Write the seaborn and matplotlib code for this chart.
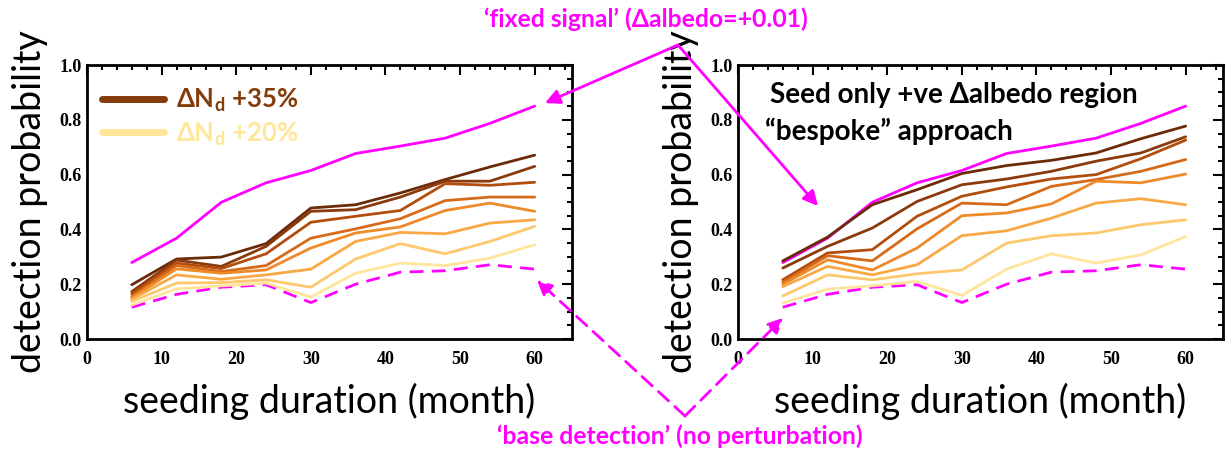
import matplotlib
matplotlib.use('Agg')
import matplotlib.pyplot as plt
import seaborn as sns
import pandas as pd
from matplotlib.lines import Line2D
from matplotlib.patches import FancyArrowPatch
from matplotlib.ticker import MultipleLocator

# ---------------- data ----------------
months = [6, 12, 18, 24, 30, 36, 42, 48, 54, 60]

fixed_signal = [0.279, 0.368, 0.499, 0.570, 0.615, 0.677, 0.704, 0.733, 0.787, 0.850]
base_detection = [0.116, 0.163, 0.189, 0.198, 0.133, 0.200, 0.244, 0.249, 0.271, 0.255]

series_names = ['+35%', '+33%', '+31%', '+29%', '+27%', '+25%', '+22%', '+20%']

left_1 = [0.198, 0.292, 0.299, 0.348, 0.478, 0.490, 0.533, 0.582, 0.628, 0.671]
left_2 = [0.173, 0.288, 0.265, 0.338, 0.466, 0.472, 0.518, 0.576, 0.576, 0.630]
left_3 = [0.165, 0.277, 0.257, 0.311, 0.426, 0.448, 0.469, 0.567, 0.561, 0.572]
left_4 = [0.155, 0.268, 0.246, 0.268, 0.368, 0.402, 0.439, 0.505, 0.518, 0.518]
left_5 = [0.150, 0.256, 0.240, 0.252, 0.332, 0.387, 0.409, 0.469, 0.496, 0.466]
left_6 = [0.145, 0.234, 0.218, 0.234, 0.255, 0.356, 0.389, 0.384, 0.423, 0.435]
left_7 = [0.137, 0.204, 0.206, 0.216, 0.189, 0.292, 0.348, 0.311, 0.356, 0.411]
left_8 = [0.124, 0.183, 0.194, 0.204, 0.153, 0.240, 0.277, 0.268, 0.295, 0.344]

right_1 = [0.285, 0.372, 0.490, 0.545, 0.604, 0.633, 0.652, 0.679, 0.731, 0.777]
right_2 = [0.259, 0.338, 0.405, 0.502, 0.563, 0.584, 0.612, 0.649, 0.679, 0.738]
right_3 = [0.216, 0.314, 0.326, 0.448, 0.521, 0.555, 0.584, 0.600, 0.658, 0.726]
right_4 = [0.207, 0.304, 0.285, 0.402, 0.496, 0.490, 0.557, 0.582, 0.612, 0.655]
right_5 = [0.200, 0.289, 0.252, 0.332, 0.450, 0.460, 0.493, 0.576, 0.570, 0.602]
right_6 = [0.191, 0.265, 0.234, 0.271, 0.377, 0.395, 0.441, 0.496, 0.512, 0.490]
right_7 = [0.157, 0.234, 0.216, 0.238, 0.252, 0.350, 0.377, 0.387, 0.417, 0.435]
right_8 = [0.131, 0.182, 0.194, 0.210, 0.159, 0.255, 0.311, 0.277, 0.307, 0.374]

left_series = [left_1, left_2, left_3, left_4, left_5, left_6, left_7, left_8]
right_series = [right_1, right_2, right_3, right_4, right_5, right_6, right_7, right_8]

x_ticks = [0, 10, 20, 30, 40, 50, 60]
y_ticks = [0.0, 0.2, 0.4, 0.6, 0.8, 1.0]

legend_labels = ['ΔN$_{\\mathrm{d}}$ +35%', 'ΔN$_{\\mathrm{d}}$ +20%']

# ---------------- styles ----------------
palette = ['#6B2A08', '#8A3A0C', '#B24D0E', '#D66A18', '#EF8A2B', '#F8A845', '#FDC86E', '#FFE59C']
legend_colors = ['#843C0C', '#FFE699']
MAGENTA = '#FF00FF'

sns.set_style('white')
plt.rcParams['font.family'] = ['Lato', 'DejaVu Sans']
plt.rcParams['mathtext.fontset'] = 'custom'
plt.rcParams['mathtext.rm'] = 'Lato:bold'
plt.rcParams['mathtext.it'] = 'Lato:bold'
plt.rcParams['mathtext.bf'] = 'Lato:bold'
plt.rcParams['text.color'] = 'black'
plt.rcParams['axes.labelcolor'] = 'black'
plt.rcParams['xtick.color'] = 'black'
plt.rcParams['ytick.color'] = 'black'

W, H = 1226, 449
fig = plt.figure(figsize=(W / 100, H / 100), dpi=100)


def fx(px):
    return px / W


def fy(py):
    return 1 - py / H


axL = fig.add_axes([fx(87), fy(339), 485 / W, 274 / H])
axR = fig.add_axes([fx(738), fy(339), 485 / W, 274 / H])


def long_df(series):
    rows = []
    for name, vals in zip(series_names, series):
        for m, v in zip(months, vals):
            rows.append({'month': m, 'prob': v, 'series': name})
    return pd.DataFrame(rows)


def draw(ax, series):
    sns.lineplot(x=months, y=fixed_signal, ax=ax, color=MAGENTA, linewidth=2.0, zorder=2)
    sns.lineplot(x=months, y=base_detection, ax=ax, color=MAGENTA, linewidth=2.0,
                 linestyle=(0, (5, 3)), zorder=2)
    df = long_df(series)
    sns.lineplot(data=df, x='month', y='prob', hue='series', hue_order=series_names,
                 palette=palette, linewidth=2.0, legend=False, ax=ax, zorder=3)
    ax.set_xlim(0, 65)
    ax.set_ylim(0, 1.0)
    ax.set_xticks(x_ticks)
    ax.set_yticks(y_ticks)
    ax.set_xticklabels([str(t) for t in x_ticks])
    ax.set_yticklabels([f'{t:.1f}' for t in y_ticks])
    ax.xaxis.set_minor_locator(MultipleLocator(2))
    ax.yaxis.set_minor_locator(MultipleLocator(0.05))
    ax.tick_params(which='both', direction='in', top=True, right=True, width=1.5,
                   color='black', labelcolor='black')
    ax.tick_params(which='major', length=7)
    ax.tick_params(which='minor', length=3.5)
    ax.tick_params(axis='x', pad=9)
    ax.tick_params(axis='y', pad=4)
    for lab in ax.get_xticklabels() + ax.get_yticklabels():
        lab.set_fontfamily('Liberation Serif')
        lab.set_fontweight('bold')
        lab.set_fontsize(13)
    for sp in ax.spines.values():
        sp.set_linewidth(2.0)
        sp.set_color('black')
    ax.set_xlabel('seeding duration (month)', fontsize=27, labelpad=10, color='black')
    ax.set_ylabel('detection probability', fontsize=27, labelpad=8, color='black')


draw(axL, left_series)
draw(axR, right_series)

handles = [Line2D([], [], color=c, linewidth=5) for c in legend_colors]
leg = axL.legend(handles, legend_labels, loc='upper left', bbox_to_anchor=(-0.016, 1.005),
                 frameon=False, handlelength=2.4, handletextpad=0.45, labelspacing=0.25,
                 prop={'family': 'Lato', 'weight': 'bold', 'size': 18.5})
for t, c in zip(leg.get_texts(), legend_colors):
    t.set_color(c)

fig.text(fx(770), fy(95), 'Seed only +ve Δalbedo region', fontsize=20, fontweight='bold',
         ha='left', va='center', color='black')
fig.text(fx(765), fy(131), '“bespoke” approach', fontsize=20, fontweight='bold',
         ha='left', va='center', color='black')

fig.text(fx(646), fy(19), '‘fixed signal’ (Δalbedo=+0.01)', fontsize=17.8, fontweight='bold',
         ha='center', va='center', color=MAGENTA)
fig.text(fx(680), fy(436), '‘base detection’ (no perturbation)', fontsize=17.8, fontweight='bold',
         ha='center', va='center', color=MAGENTA)

# annotation arrows (figure coordinates)
apex_top = (fx(678), fy(45))
apex_bot = (fx(685), fy(416))
for tip in [(fx(545), fy(103)), (fx(818), fy(206))]:
    fig.add_artist(FancyArrowPatch(apex_top, tip, transform=fig.transFigure,
                                   arrowstyle='-|>', mutation_scale=22, color=MAGENTA,
                                   linewidth=2.0, shrinkA=0, shrinkB=0))
for tip in [(fx(537), fy(280)), (fx(783), fy(318))]:
    fig.add_artist(FancyArrowPatch(apex_bot, tip, transform=fig.transFigure,
                                   arrowstyle='-|>', mutation_scale=22, color=MAGENTA,
                                   linewidth=2.0, linestyle=(0, (5, 3)), shrinkA=0, shrinkB=0))

fig.savefig('out.png', dpi=100)
